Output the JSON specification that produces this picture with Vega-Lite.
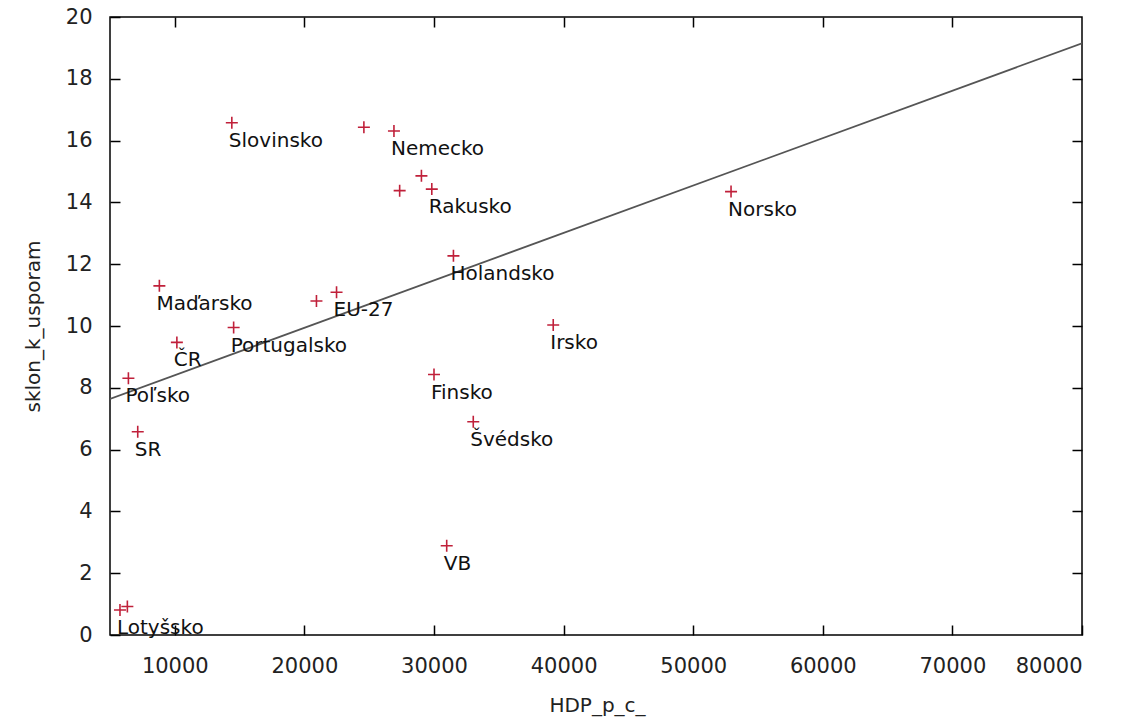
{
  "$schema": "https://vega.github.io/schema/vega-lite/v6.json",
  "width": 972,
  "height": 618,
  "autosize": {"type": "none"},
  "padding": {"left": 110, "top": 17, "right": 50, "bottom": 85},
  "background": "white",
  "config": {
    "view": {"stroke": "#000000", "strokeWidth": 1.5},
    "axis": {
      "grid": false,
      "domain": false,
      "tickColor": "#000000",
      "tickWidth": 1.5,
      "tickSize": -10,
      "labelFont": "DejaVu Sans",
      "labelFontSize": 21,
      "labelColor": "#222222",
      "titleFont": "DejaVu Sans",
      "titleFontSize": 20,
      "titleFontWeight": "normal",
      "titleColor": "#222222"
    }
  },
  "datasets": {
    "points": [
      {"land": "Slovinsko", "hdp": 14400, "sklon": 16.58},
      {"land": "", "hdp": 24590, "sklon": 16.43},
      {"land": "Nemecko", "hdp": 26910, "sklon": 16.31},
      {"land": "", "hdp": 29030, "sklon": 14.86},
      {"land": "", "hdp": 27350, "sklon": 14.38},
      {"land": "Rakusko", "hdp": 29830, "sklon": 14.43},
      {"land": "Holandsko", "hdp": 31500, "sklon": 12.27},
      {"land": "Maďarsko", "hdp": 8810, "sklon": 11.30},
      {"land": "", "hdp": 20930, "sklon": 10.81},
      {"land": "EU-27", "hdp": 22480, "sklon": 11.09},
      {"land": "Portugalsko", "hdp": 14540, "sklon": 9.95},
      {"land": "ČR", "hdp": 10160, "sklon": 9.47},
      {"land": "Poľsko", "hdp": 6420, "sklon": 8.31},
      {"land": "SR", "hdp": 7140, "sklon": 6.58},
      {"land": "Lotyšsko", "hdp": 5770, "sklon": 0.81},
      {"land": "", "hdp": 6340, "sklon": 0.92},
      {"land": "Finsko", "hdp": 30000, "sklon": 8.43},
      {"land": "VB", "hdp": 30980, "sklon": 2.89},
      {"land": "Norsko", "hdp": 52920, "sklon": 14.35},
      {"land": "Irsko", "hdp": 39200, "sklon": 10.03},
      {"land": "Švédsko", "hdp": 33030, "sklon": 6.90}
    ],
    "trend": [
      {"hdp": 5000, "sklon": 7.64},
      {"hdp": 80000, "sklon": 19.15}
    ]
  },
  "layer": [
    {
      "data": {"name": "trend"},
      "mark": {"type": "line", "color": "#555555", "strokeWidth": 1.8, "clip": true},
      "encoding": {
        "x": {
          "field": "hdp", "type": "quantitative",
          "scale": {"domain": [5000, 80000], "nice": false, "zero": false},
          "axis": {
            "orient": "bottom",
            "values": [10000, 20000, 30000, 40000, 50000, 60000, 70000, 80000],
            "format": "d",
            "labelPadding": 30,
            "title": "HDP_p_c_",
            "titleX": 487,
            "titleY": 70,
            "titleAlign": "center",
            "titleBaseline": "middle"
          }
        },
        "y": {
          "field": "sklon", "type": "quantitative",
          "scale": {"domain": [0, 20], "nice": false, "zero": false},
          "axis": {
            "orient": "left",
            "values": [0, 2, 4, 6, 8, 10, 12, 14, 16, 18, 20],
            "labelPadding": 28,
            "title": "sklon_k_usporam",
            "titleX": -77,
            "titleY": 309,
            "titleAngle": 270,
            "titleAlign": "center",
            "titleBaseline": "middle"
          }
        }
      }
    },
    {
      "data": {"name": "points"},
      "mark": {
        "type": "point",
        "shape": "M-1,0H1M0,-1V1",
        "filled": false,
        "size": 144,
        "stroke": "#c0203a",
        "strokeWidth": 1.6,
        "opacity": 1
      },
      "encoding": {
        "x": {
          "field": "hdp", "type": "quantitative",
          "scale": {"domain": [5000, 80000], "nice": false, "zero": false},
          "axis": {
            "orient": "top",
            "values": [10000, 20000, 30000, 40000, 50000, 60000, 70000],
            "labels": false,
            "title": null
          }
        },
        "y": {
          "field": "sklon", "type": "quantitative",
          "scale": {"domain": [0, 20], "nice": false, "zero": false},
          "axis": {
            "orient": "right",
            "values": [2, 4, 6, 8, 10, 12, 14, 16, 18],
            "labels": false,
            "title": null
          }
        }
      }
    },
    {
      "data": {"name": "points"},
      "mark": {
        "type": "text",
        "align": "left",
        "baseline": "middle",
        "dx": -3,
        "dy": 18,
        "font": "DejaVu Sans",
        "fontSize": 20,
        "color": "#111111"
      },
      "encoding": {
        "x": {"field": "hdp", "type": "quantitative", "scale": {"domain": [5000, 80000], "nice": false, "zero": false}, "axis": null},
        "y": {"field": "sklon", "type": "quantitative", "scale": {"domain": [0, 20], "nice": false, "zero": false}, "axis": null},
        "text": {"field": "land", "type": "nominal"},
        "fontWeight": {
          "condition": {"test": "datum.land === 'SR'", "value": "bold"},
          "value": "normal"
        }
      }
    }
  ],
  "resolve": {"axis": {"x": "independent", "y": "independent"}}
}
